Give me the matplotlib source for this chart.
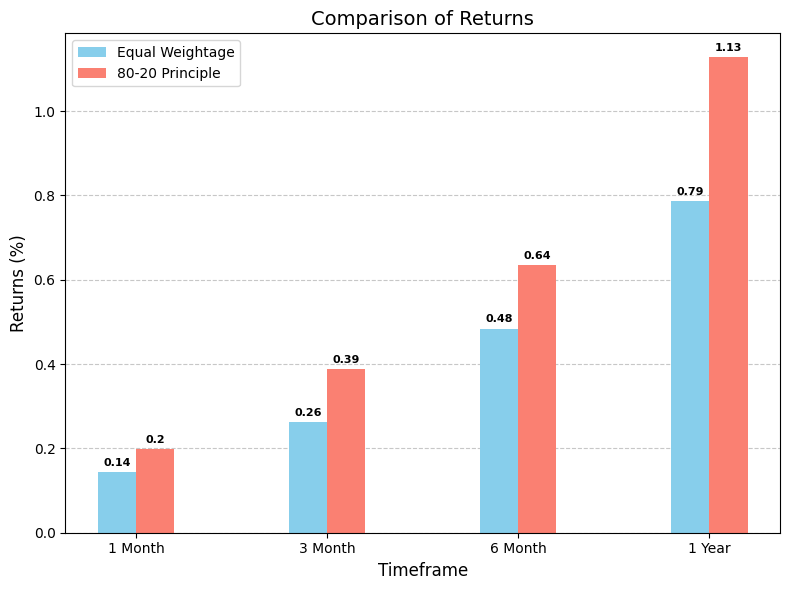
import matplotlib.pyplot as plt
import numpy as np

timeframes = ['1 Month', '3 Month', '6 Month', '1 Year']
equal_weightage = [0.143, 0.262, 0.484, 0.787]
principle_80_20 = [0.198, 0.388, 0.635, 1.128]

x = np.arange(len(timeframes))
width = 0.2

fig, ax = plt.subplots(figsize=(8, 6), dpi=100)

bars1 = ax.bar(x - width / 2, equal_weightage, width, label='Equal Weightage', color='skyblue')
bars2 = ax.bar(x + width / 2, principle_80_20, width, label='80-20 Principle', color='salmon')

# value labels on top of each bar
for bars in (bars1, bars2):
    for bar in bars:
        h = bar.get_height()
        ax.annotate(f'{round(h, 2)}', xy=(bar.get_x() + bar.get_width() / 2, h),
                    xytext=(0, 3), textcoords='offset points',
                    ha='center', va='bottom', fontsize=8, fontweight='bold')

ax.set_xlabel('Timeframe', fontsize=12)
ax.set_ylabel('Returns (%)', fontsize=12)
ax.set_title('Comparison of Returns', fontsize=14)
ax.set_xticks(x)
ax.set_xticklabels(timeframes)
ax.legend(loc='upper left')
ax.yaxis.grid(True, linestyle='--', alpha=0.7)
ax.set_axisbelow(True)

plt.tight_layout()
plt.savefig('out.png', bbox_inches='tight')
